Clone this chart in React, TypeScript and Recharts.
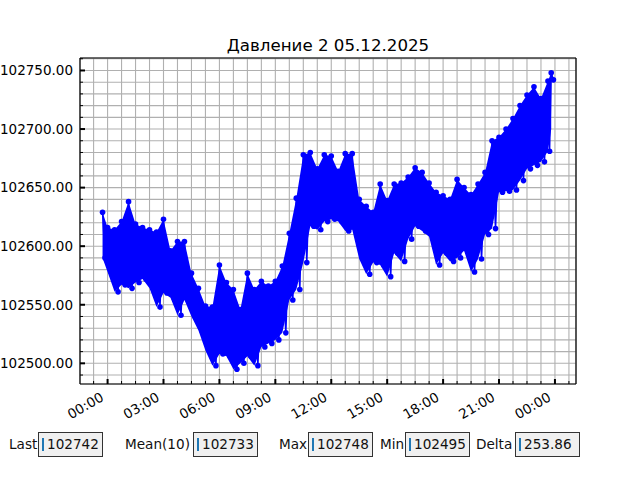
import React from 'react';
import { ComposedChart, Line, Area, XAxis, YAxis, CartesianGrid, ReferenceLine } from 'recharts';

const title = 'Давление 2 05.12.2025';

const hours = [
  -0.27, 0, 0.375, 0.75, 1.125, 1.5, 1.875, 2.25, 2.625, 3, 3.375, 3.75, 4.125, 4.5, 4.875, 5.25,
  5.625, 6, 6.375, 6.75, 7.125, 7.5, 7.875, 8.25, 8.625, 9, 9.375, 9.75, 10.125, 10.5, 10.875, 11.25,
  11.625, 12, 12.375, 12.75, 13.125, 13.5, 13.875, 14.25, 14.625, 15, 15.375, 15.75, 16.125, 16.5,
  16.875, 17.25, 17.625, 18, 18.375, 18.75, 19.125, 19.5, 19.875, 20.25, 20.625, 21, 21.375, 21.75,
  22.125, 22.5, 22.875, 23.25, 23.625, 23.8,
];

// upper edge of the noisy band in each slot
const highs = [
  102629, 102616, 102614, 102621, 102638, 102619, 102616, 102614, 102612, 102623, 102596, 102604,
  102604, 102577, 102564, 102549, 102548, 102584, 102569, 102563, 102546, 102577, 102563, 102570,
  102566, 102570, 102583, 102611, 102641, 102678, 102680, 102666, 102678, 102677, 102664, 102679,
  102679, 102640, 102634, 102629, 102653, 102639, 102653, 102654, 102659, 102667, 102663, 102654,
  102646, 102643, 102640, 102657, 102650, 102644, 102653, 102663, 102690, 102693, 102700, 102709,
  102720, 102729, 102736, 102726, 102741, 102748,
];

// lower edge of the band in each slot
const lows = [
  102590, 102578, 102561, 102567, 102564, 102569, 102572, 102564, 102548, 102560, 102556, 102541,
  102554, 102540, 102528, 102511, 102498, 102508, 102506, 102495, 102500, 102506, 102498, 102514,
  102517, 102520, 102526, 102554, 102563, 102586, 102617, 102614, 102621, 102623, 102621, 102613,
  102614, 102589, 102576, 102586, 102584, 102574, 102594, 102587, 102606, 102617, 102613, 102608,
  102584, 102594, 102587, 102590, 102596, 102578, 102589, 102610, 102615, 102646, 102647, 102648,
  102656, 102666, 102669, 102672, 102681, 102700,
];

const lastHour = 23.92;
const lastValue = 102742;

const xMajorTicks = [0, 3, 6, 9, 12, 15, 18, 21, 24];
const xTickLabels = ['00:00', '03:00', '06:00', '09:00', '12:00', '15:00', '18:00', '21:00', '00:00'];

const statLabels = ['Last', 'Mean(10)', 'Max', 'Min', 'Delta'];
const statValues = ['102742', '102733', '102748', '102495', '253.86'];
const statLabelLeft = [9, 125, 279, 380, 476];
const statBoxLeft = [38, 193, 308, 405, 515];

// zigzag through the band: high at the slot, low half way to the next slot
const points: { t: number; v: number }[] = [];
hours.forEach((h, i) => {
  points.push({ t: h, v: highs[i] });
  if (i < hours.length - 1) points.push({ t: (h + hours[i + 1]) / 2, v: lows[i] });
});
points.push({ t: lastHour, v: lastValue });

const band = hours.map((h, i) => ({ t: h, range: [lows[i], highs[i]] }));

const allValues = [...highs, ...lows, lastValue];
const vMin = Math.min(...allValues);
const vMax = Math.max(...allValues);
const xSpan = lastHour - hours[0];
const ySpan = vMax - vMin;
const xDomain = [hours[0] - 0.05 * xSpan, lastHour + 0.05 * xSpan];
const yDomain = [vMin - 0.05 * ySpan, vMax + 0.05 * ySpan];

const xTicks: number[] = [];
for (let h = -0.75; h <= xDomain[1]; h += 0.75) xTicks.push(h);
const yTicks: number[] = [];
for (let v = Math.ceil(yDomain[0] / 10) * 10; v <= yDomain[1]; v += 10) yTicks.push(v);

const FONT = '"DejaVu Sans", sans-serif';
const BLUE = '#0000ff';

const XTick = (props: any) => {
  const { x, y, payload } = props;
  const idx = xMajorTicks.findIndex((m) => Math.abs(m - payload.value) < 1e-6);
  const major = idx >= 0;
  return (
    <g>
      <line x1={x} x2={x} y1={y} y2={y - (major ? 5 : 3)} stroke="#000" strokeWidth={major ? 2 : 1} />
      {major && (
        <text
          x={x - 3}
          y={y + 16}
          textAnchor="end"
          transform={`rotate(-30, ${x - 3}, ${y + 16})`}
          fontSize={13.5}
          fontFamily={FONT}
          fill="#000"
        >
          {xTickLabels[idx]}
        </text>
      )}
    </g>
  );
};

const YTick = (props: any) => {
  const { x, y, payload } = props;
  const major = Math.round(payload.value) % 50 === 0;
  return (
    <g>
      <line x1={x} x2={x + (major ? 5 : 3)} y1={y} y2={y} stroke="#000" strokeWidth={major ? 2 : 1} />
      {major && (
        <text x={x - 7} y={y} dy="0.36em" textAnchor="end" fontSize={13.5} fontFamily={FONT} fill="#000">
          {payload.value.toFixed(2)}
        </text>
      )}
    </g>
  );
};

const App: React.FC = () => {
  return (
    <div style={{ position: 'absolute', left: 0, top: 0, width: 640, height: 480, background: '#fff', fontFamily: FONT }}>
      <div
        style={{
          position: 'absolute',
          left: 80,
          width: 496,
          top: 36,
          lineHeight: '20px',
          fontSize: 16.67,
          textAlign: 'center',
          color: '#000',
        }}
      >
        {title}
      </div>
      <ComposedChart width={640} height={430} margin={{ top: 58, right: 64, left: 0, bottom: 6 }}>
        <CartesianGrid stroke="#b0b0b0" strokeWidth={1.1} />
        <XAxis
          dataKey="t"
          type="number"
          domain={xDomain}
          allowDataOverflow
          ticks={xTicks}
          interval={0}
          tick={XTick}
          tickLine={false}
          tickSize={0}
          tickMargin={0}
          height={40}
          axisLine={{ stroke: '#000', strokeWidth: 1.2 }}
        />
        <YAxis
          type="number"
          domain={yDomain}
          allowDataOverflow
          ticks={yTicks}
          interval={0}
          tick={YTick}
          tickLine={false}
          tickSize={0}
          tickMargin={0}
          width={80}
          axisLine={{ stroke: '#000', strokeWidth: 1.2 }}
        />
        <ReferenceLine y={yDomain[1]} stroke="#000" strokeWidth={1.2} />
        <ReferenceLine x={xDomain[1]} stroke="#000" strokeWidth={1.2} />
        <Area
          data={band}
          dataKey="range"
          type="linear"
          stroke="none"
          fill={BLUE}
          fillOpacity={1}
          isAnimationActive={false}
        />
        <Line
          data={points}
          dataKey="v"
          type="linear"
          stroke={BLUE}
          strokeWidth={1.5}
          dot={{ r: 2.8, fill: BLUE, stroke: 'none' }}
          isAnimationActive={false}
        />
      </ComposedChart>
      {statLabels.map((label, i) => (
        <React.Fragment key={label}>
          <div
            style={{
              position: 'absolute',
              left: statLabelLeft[i],
              top: 432,
              height: 25,
              lineHeight: '25px',
              fontSize: 13.6,
              color: '#111',
            }}
          >
            {label}
          </div>
          <div
            style={{
              position: 'absolute',
              left: statBoxLeft[i],
              top: 432,
              width: 55,
              height: 23,
              border: '1px solid #333',
              background: '#f0f0f0',
              lineHeight: '23px',
              fontSize: 13.6,
              color: '#111',
              paddingLeft: 8,
              boxSizing: 'content-box',
            }}
          >
            <span
              style={{
                position: 'absolute',
                left: 3,
                top: 5,
                width: 2,
                height: 13,
                background: '#1f77b4',
              }}
            />
            {statValues[i]}
          </div>
        </React.Fragment>
      ))}
    </div>
  );
};

export default App;
